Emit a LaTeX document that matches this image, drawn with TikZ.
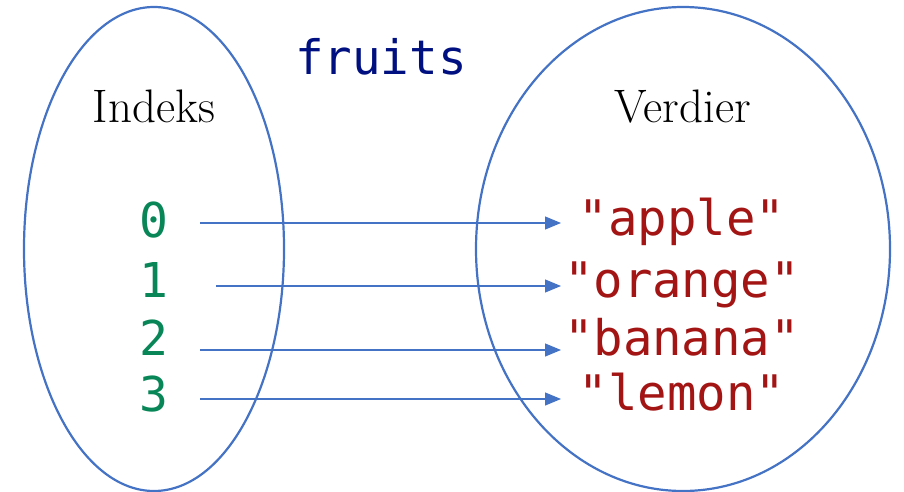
\documentclass[tikz,border=0pt]{standalone}
\usepackage{fontspec}
\newfontfamily\codefont{DejaVu Sans Mono}
\usetikzlibrary{arrows.meta,shapes.geometric}
\definecolor{lineblue}{HTML}{4472C4}
\definecolor{numgreen}{HTML}{098658}
\definecolor{strred}{HTML}{A31515}
\definecolor{varnavy}{HTML}{001080}
\begin{document}
\begin{tikzpicture}[x=1pt,y=-1pt,
  setshape/.style={draw=lineblue,line width=2.2pt},
  arr/.style={draw=lineblue,line width=1.2pt,-{Triangle[length=16pt,width=13pt]}},
  numlabel/.style={font=\codefont\fontsize{48}{54}\selectfont,text=numgreen,anchor=base,inner sep=0pt},
  strlabel/.style={font=\codefont\fontsize{49}{55}\selectfont,text=strred,anchor=base,inner sep=0pt},
  titlelabel/.style={font=\fontsize{47}{54}\selectfont,anchor=base,inner sep=0pt}]
\useasboundingbox (0,0) rectangle (904,492);
\node[setshape,ellipse,minimum width=260pt,minimum height=484pt,inner sep=0pt] (L) at (154,249) {};
\node[setshape,ellipse,minimum width=414pt,minimum height=484pt,inner sep=0pt] (R) at (683,249) {};
\node[font=\codefont\fontsize{47.5}{54}\selectfont,text=varnavy,anchor=base,inner sep=0pt] (title) at (381,75) {fruits};
\node[titlelabel] (idx) at (154,123) {Indeks};
\node[titlelabel] (val) at (683,123) {Verdier};
\node[numlabel] (n0) at (154,237) {0};
\node[numlabel] (n1) at (154,297) {1};
\node[numlabel] (n2) at (154,355) {2};
\node[numlabel] (n3) at (154,411) {3};
\node[strlabel] (v0) at (682,235) {"apple"};
\node[strlabel] (v1) at (682,297) {"orange"};
\node[strlabel] (v2) at (682,355) {"banana"};
\node[strlabel] (v3) at (682,410) {"lemon"};
\coordinate (s0) at (200,223);
\coordinate (s1) at (216,286);
\coordinate (s2) at (200,350);
\coordinate (s3) at (200,399);
\coordinate (e0) at (561,223);
\coordinate (e1) at (561,286);
\coordinate (e2) at (561,350);
\coordinate (e3) at (561,399);
\draw[arr] (s0) -- (e0);
\draw[arr] (s1) -- (e1);
\draw[arr] (s2) -- (e2);
\draw[arr] (s3) -- (e3);
\end{tikzpicture}
\end{document}
